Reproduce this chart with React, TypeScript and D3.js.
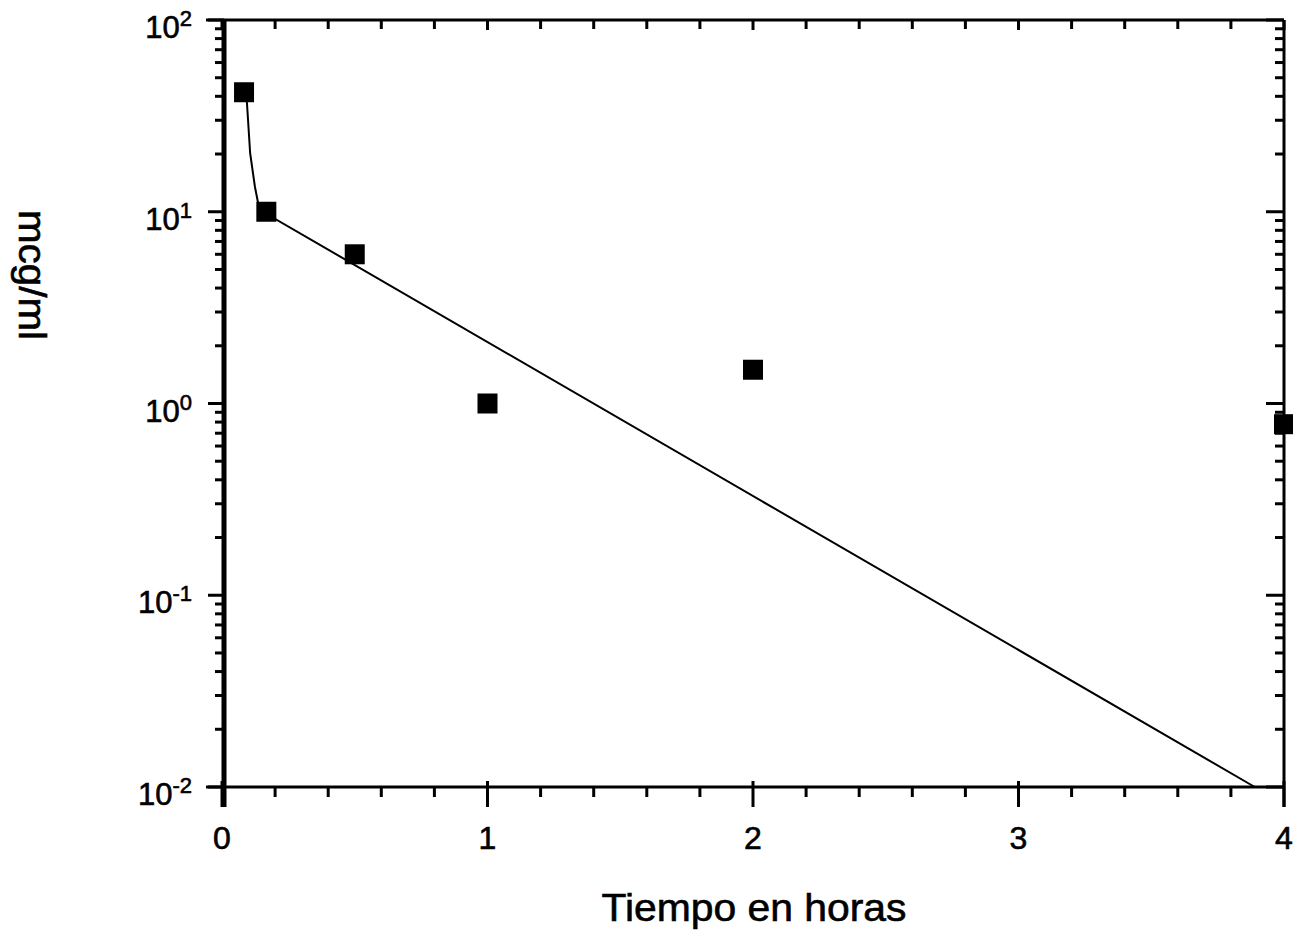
import React from "react";
import * as d3 from "d3";

const sampleTimes = [0.083, 0.167, 0.5, 1, 2, 4];
const sampleConc = [42, 10, 6, 1, 1.5, 0.78];
const fitTimes = [0.087, 0.094, 0.106, 0.124, 0.136, 0.162, 3.89];
const fitConc = [41.6, 36.9, 20.2, 13.5, 11.1, 9.85, 0.01];
const xMajorTicks = [0, 1, 2, 3, 4];
const xMinorTicks = d3.range(0, 20).map((i) => i / 5).filter((v) => Math.abs(v - Math.round(v)) > 1e-6);
const yDecades = [-2, -1, 0, 1, 2];
const xTitle = "Tiempo en horas";
const yTitle = "mcg/ml";

const W = 1293;
const H = 936;
const FONT = "'Liberation Sans', Arial, Helvetica, sans-serif";

export default function App() {
  const x = d3.scaleLinear().domain([0, 4]).range([222, 1284]);
  const y = d3.scaleLog().domain([0.01, 100]).range([787, 20]);
  const top = y(100);
  const bottom = y(0.01);
  const left = x(0);
  const right = x(4);

  const yMinor: number[] = [];
  yDecades.slice(0, -1).forEach((k) => {
    for (let m = 2; m <= 9; m++) yMinor.push(m * Math.pow(10, k));
  });

  const fitData = fitTimes.map((t, i) => [t, fitConc[i]] as [number, number]);
  const line = d3
    .line<[number, number]>()
    .x((d) => x(d[0]))
    .y((d) => y(d[1]));

  const sq = 20;
  const tw = 3;
  const textStroke = { stroke: "#000", strokeWidth: 0.6 };

  return (
    <svg width={W} height={H} style={{ position: "absolute", left: 0, top: 0, background: "#fff" }}>
      <rect x={0} y={0} width={W} height={H} fill="#fff" />
      {/* frame */}
      <line x1={left - 16} x2={right} y1={top} y2={top} stroke="#000" strokeWidth={tw} />
      <line x1={left - 16} x2={right} y1={bottom} y2={bottom} stroke="#000" strokeWidth={tw} />
      <line x1={right} x2={right} y1={top} y2={bottom + 20} stroke="#000" strokeWidth={tw} />
      <line x1={left + 2} x2={left + 2} y1={top} y2={bottom + 20} stroke="#000" strokeWidth={5} />

      {/* x ticks: bottom outward, top inward */}
      {xMajorTicks.map((v) => (
        <g key={"xm" + v}>
          <line x1={x(v)} x2={x(v)} y1={bottom - 6} y2={bottom + 20} stroke="#000" strokeWidth={tw} />
          <line x1={x(v)} x2={x(v)} y1={top} y2={top + 10} stroke="#000" strokeWidth={tw} />
          <text x={x(v)} y={849} textAnchor="middle" fontFamily={FONT} fontSize={32} {...textStroke}>
            {v}
          </text>
        </g>
      ))}
      {xMinorTicks.map((v) => (
        <g key={"xn" + v}>
          <line x1={x(v)} x2={x(v)} y1={bottom} y2={bottom + 10} stroke="#000" strokeWidth={tw} />
          <line x1={x(v)} x2={x(v)} y1={top} y2={top + 9} stroke="#000" strokeWidth={tw} />
        </g>
      ))}

      {/* y ticks: left outward, right inward */}
      {yDecades.map((k) => {
        const v = Math.pow(10, k);
        const py = y(v);
        return (
          <g key={"yd" + k}>
            <line x1={left - 14} x2={left + 2} y1={py} y2={py} stroke="#000" strokeWidth={tw} />
            <line x1={right - 18} x2={right} y1={py} y2={py} stroke="#000" strokeWidth={tw} />
            <text x={192} y={py + 18} textAnchor="end" fontFamily={FONT} fontSize={31} {...textStroke}>
              10
              <tspan dy={-12} fontSize={22}>
                {k < 0 ? "-" + Math.abs(k) : String(k)}
              </tspan>
            </text>
          </g>
        );
      })}
      {yMinor.map((v, i) => {
        const py = y(v);
        return (
          <g key={"yn" + i}>
            <line x1={left - 7} x2={left + 2} y1={py} y2={py} stroke="#000" strokeWidth={tw} />
            <line x1={right - 9} x2={right} y1={py} y2={py} stroke="#000" strokeWidth={tw} />
          </g>
        );
      })}

      {/* fitted curve */}
      <path d={line(fitData) || ""} fill="none" stroke="#000" strokeWidth={2} />

      {/* data points */}
      {sampleTimes.map((t, i) => (
        <rect
          key={"p" + i}
          x={x(t) - sq / 2}
          y={y(sampleConc[i]) - sq / 2}
          width={sq}
          height={sq}
          fill="#000"
        />
      ))}

      {/* titles */}
      <text
        x={754}
        y={921}
        textAnchor="middle"
        fontFamily={FONT}
        fontSize={38}
        textLength={305}
        lengthAdjust="spacingAndGlyphs"
        {...textStroke}
      >
        {xTitle}
      </text>
      <text
        transform={`translate(19, 275) rotate(90)`}
        textAnchor="middle"
        fontFamily={FONT}
        fontSize={38}
        textLength={130}
        lengthAdjust="spacingAndGlyphs"
        {...textStroke}
      >
        {yTitle}
      </text>
    </svg>
  );
}
